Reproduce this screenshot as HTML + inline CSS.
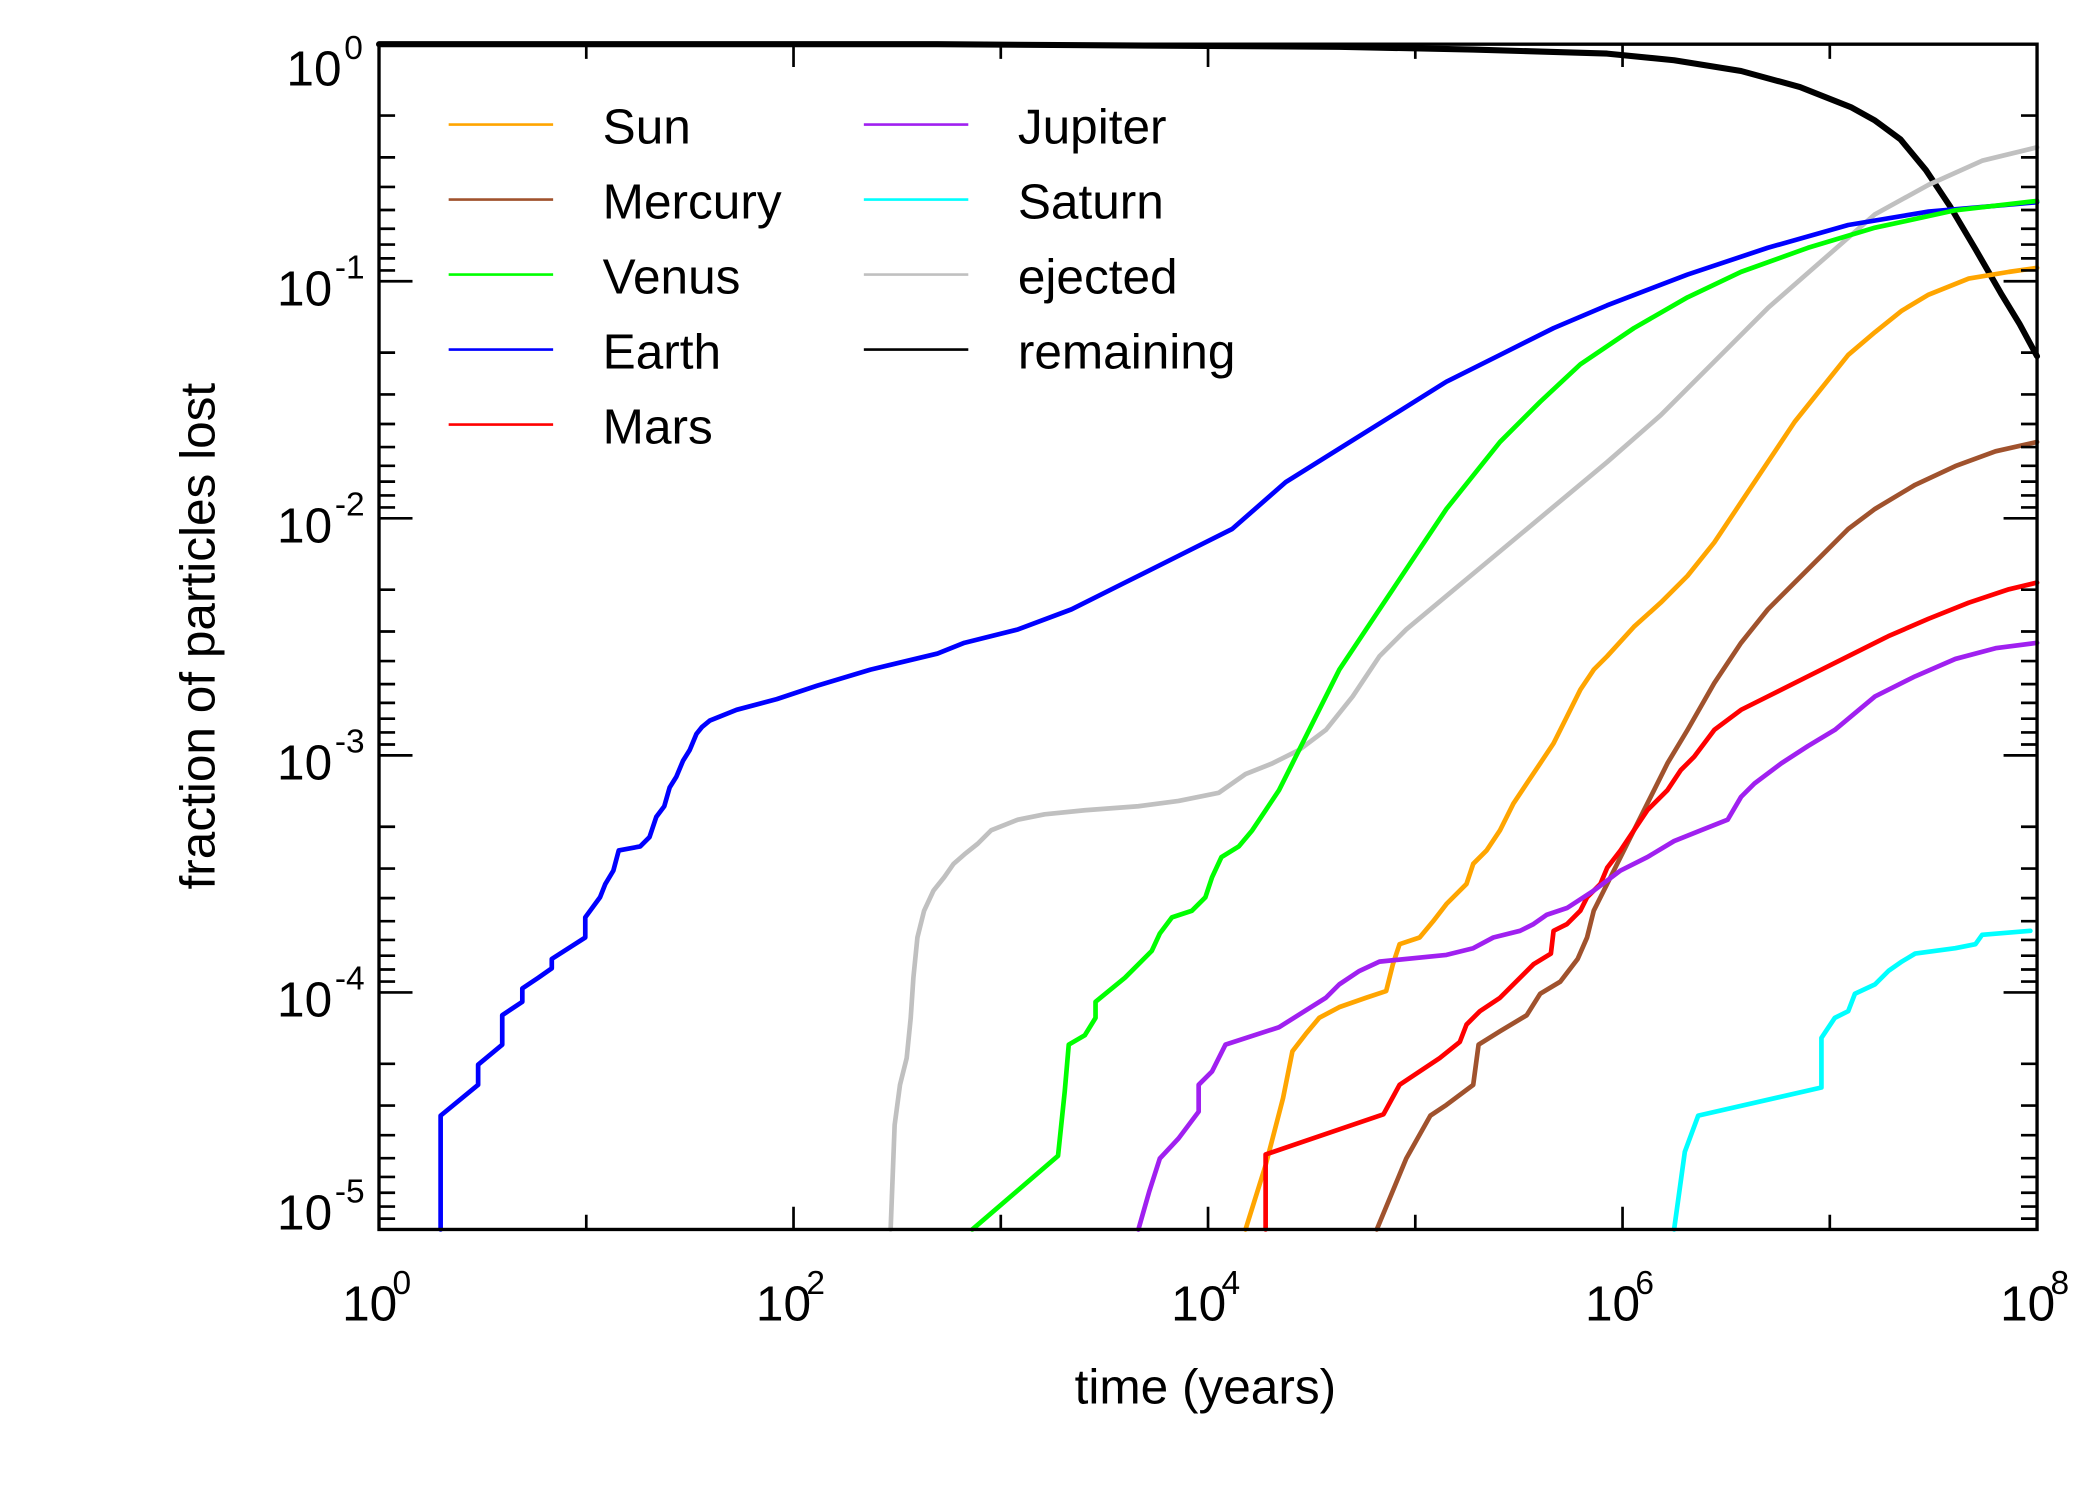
<!DOCTYPE html>
<html><head><meta charset="utf-8"><style>
html,body{margin:0;padding:0;background:#fff;}
svg{display:block;}
text{font-family:"Liberation Sans",Arial,sans-serif;fill:#000;}
</style></head><body>
<svg width="2100" height="1500" viewBox="0 0 1568 1120" xmlns="http://www.w3.org/2000/svg">
<rect width="1568" height="1120" fill="#fff"/>
<g fill="none" stroke-linejoin="round" stroke-linecap="round">
<!-- remaining -->
<polyline stroke="#000" stroke-width="4.5" points="283,33 700,33 1000,35 1100,37 1200,40 1250,45 1300,53 1344,65 1382,80 1400,90 1419,104 1438,127 1456,154 1475,186 1494,219 1508,242 1521,266"/>
<!-- ejected -->
<polyline stroke="#c0c0c0" stroke-width="3.5" points="665,918 668,840 672,810 677,790 680,760 682,730 685,700 690,680 697,665 705,655 712,645 720,638 730,630 740,620 760,612 780,608 810,605 850,602 880,598 910,592 930,578 950,570 970,560 990,545 1010,520 1030,490 1050,470 1080,445 1110,420 1140,395 1170,370 1200,345 1240,310 1280,270 1320,230 1360,195 1400,160 1440,138 1480,120 1521,110"/>
<!-- Earth -->
<polyline stroke="#0000ff" stroke-width="3.5" points="329,918 329,833 357,810 357,795 375,780 375,758 390,748 390,738 402,730 412,723 412,716 437,700 437,685 448,670 452,660 458,650 462,635 478,632 485,625 490,610 496,602 500,588 505,580 510,568 515,560 520,548 524,543 530,538 550,530 580,522 610,512 650,500 700,488 720,480 760,470 800,455 840,435 880,415 920,395 960,360 1000,335 1040,310 1080,285 1120,265 1160,245 1200,228 1260,205 1320,185 1380,168 1440,158 1521,151"/>
<!-- Venus -->
<polyline stroke="#00ff00" stroke-width="3.5" points="726,918 790,863 795,815 798,780 810,773 818,760 818,748 840,730 860,710 866,697 875,685 890,680 900,670 905,655 912,640 925,632 935,620 945,605 955,590 965,570 980,540 1000,500 1020,470 1040,440 1060,410 1080,380 1100,355 1120,330 1150,300 1180,272 1220,245 1260,222 1300,203 1350,185 1400,170 1460,157 1521,150"/>
<!-- Sun -->
<polyline stroke="#ffa500" stroke-width="3.5" points="930,918 945,870 958,820 965,785 975,772 985,760 1000,752 1020,745 1035,740 1040,720 1045,705 1060,700 1070,688 1080,675 1095,660 1100,645 1110,635 1120,620 1130,600 1140,585 1150,570 1160,555 1170,535 1180,515 1190,500 1200,490 1220,468 1240,450 1260,430 1280,405 1300,375 1320,345 1340,315 1360,290 1380,265 1400,248 1420,232 1440,220 1470,208 1500,203 1521,200"/>
<!-- Mercury -->
<polyline stroke="#a0522d" stroke-width="3.5" points="1028,918 1050,865 1068,833 1080,825 1100,810 1104,780 1120,770 1140,758 1150,742 1165,733 1178,716 1185,700 1190,680 1200,660 1215,630 1230,600 1245,570 1260,545 1280,510 1300,480 1320,455 1340,435 1360,415 1380,395 1400,380 1430,362 1460,348 1490,337 1521,330"/>
<!-- Mars -->
<polyline stroke="#ff0000" stroke-width="3.5" points="945,918 945,862 1033,832 1045,810 1060,800 1075,790 1090,778 1095,765 1105,755 1120,745 1130,735 1145,720 1158,712 1160,695 1170,690 1180,680 1185,670 1195,660 1200,648 1210,635 1220,620 1230,605 1245,590 1255,575 1265,565 1280,545 1300,530 1320,520 1350,505 1380,490 1410,475 1440,462 1470,450 1500,440 1521,435"/>
<!-- Jupiter -->
<polyline stroke="#a020f0" stroke-width="3.5" points="850,918 858,890 866,865 880,850 895,830 895,810 905,800 915,780 955,767 990,745 1000,735 1015,725 1030,718 1080,713 1100,708 1115,700 1135,695 1145,690 1155,683 1170,678 1190,665 1210,650 1230,640 1250,628 1270,620 1290,612 1300,595 1310,585 1330,570 1350,557 1370,545 1400,520 1430,505 1460,492 1490,484 1521,480"/>
<!-- Saturn -->
<polyline stroke="#00ffff" stroke-width="3.5" points="1250,918 1258,860 1268,833 1360,812 1360,775 1370,760 1380,755 1385,742 1400,735 1410,725 1420,718 1430,712 1460,708 1475,705 1480,698 1516,695"/>
</g>
<!-- axes box -->
<rect x="283" y="33" width="1238" height="885" fill="none" stroke="#000" stroke-width="2.5"/>
<g stroke="#000" stroke-width="2">
<path d="M283,918v-17M437.75,918v-11M592.5,918v-17M747.25,918v-11M902,918v-17M1056.75,918v-11M1211.5,918v-17M1366.25,918v-11M1521,918v-17
M283,33v17M437.75,33v11M592.5,33v17M747.25,33v11M902,33v17M1056.75,33v11M1211.5,33v17M1366.25,33v11M1521,33v17"/>
<path d="
M283,210h25M283,387h25M283,564h25M283,741h25
M1521,210h-25M1521,387h-25M1521,564h-25M1521,741h-25
M283,86.3h12M283,117.5h12M283,139.6h12M283,156.8h12M283,170.8h12M283,182.6h12M283,192.9h12M283,201.9h12
M283,263.3h12M283,294.5h12M283,316.6h12M283,333.8h12M283,347.8h12M283,359.6h12M283,369.9h12M283,378.9h12
M283,440.3h12M283,471.5h12M283,493.6h12M283,510.8h12M283,524.8h12M283,536.6h12M283,546.9h12M283,555.9h12
M283,617.3h12M283,648.5h12M283,670.6h12M283,687.8h12M283,701.8h12M283,713.6h12M283,723.9h12M283,732.9h12
M283,794.3h12M283,825.5h12M283,847.6h12M283,864.8h12M283,878.8h12M283,890.6h12M283,900.9h12M283,909.9h12
M1521,86.3h-12M1521,117.5h-12M1521,139.6h-12M1521,156.8h-12M1521,170.8h-12M1521,182.6h-12M1521,192.9h-12M1521,201.9h-12
M1521,263.3h-12M1521,294.5h-12M1521,316.6h-12M1521,333.8h-12M1521,347.8h-12M1521,359.6h-12M1521,369.9h-12M1521,378.9h-12
M1521,440.3h-12M1521,471.5h-12M1521,493.6h-12M1521,510.8h-12M1521,524.8h-12M1521,536.6h-12M1521,546.9h-12M1521,555.9h-12
M1521,617.3h-12M1521,648.5h-12M1521,670.6h-12M1521,687.8h-12M1521,701.8h-12M1521,713.6h-12M1521,723.9h-12M1521,732.9h-12
M1521,794.3h-12M1521,825.5h-12M1521,847.6h-12M1521,864.8h-12M1521,878.8h-12M1521,890.6h-12M1521,900.9h-12M1521,909.9h-12"/>
</g>
<!-- y labels -->
<g font-size="37" text-anchor="end">
<text x="255" y="64">10</text><text x="257" y="44" text-anchor="start" font-size="25">0</text>
<text x="248" y="228">10</text><text x="250" y="208" text-anchor="start" font-size="25">-1</text>
<text x="248" y="405">10</text><text x="250" y="385" text-anchor="start" font-size="25">-2</text>
<text x="248" y="582">10</text><text x="250" y="562" text-anchor="start" font-size="25">-3</text>
<text x="248" y="759">10</text><text x="250" y="739" text-anchor="start" font-size="25">-4</text>
<text x="248" y="918">10</text><text x="250" y="898" text-anchor="start" font-size="25">-5</text>
</g>
<!-- x labels -->
<g font-size="37" text-anchor="middle">
<text x="276" y="986">10</text><text x="300" y="966" font-size="25">0</text>
<text x="585" y="986">10</text><text x="609" y="966" font-size="25">2</text>
<text x="895" y="986">10</text><text x="919" y="966" font-size="25">4</text>
<text x="1204" y="986">10</text><text x="1228" y="966" font-size="25">6</text>
<text x="1514" y="986">10</text><text x="1538" y="966" font-size="25">8</text>
</g>
<text x="900" y="1048" font-size="37" text-anchor="middle">time (years)</text>
<text transform="translate(160,475) rotate(-90)" font-size="37" text-anchor="middle">fraction of particles lost</text>
<!-- legend -->
<g stroke-width="2">
<line x1="335" y1="93" x2="413" y2="93" stroke="#ffa500"/>
<line x1="335" y1="149" x2="413" y2="149" stroke="#a0522d"/>
<line x1="335" y1="205" x2="413" y2="205" stroke="#00ff00"/>
<line x1="335" y1="261" x2="413" y2="261" stroke="#0000ff"/>
<line x1="335" y1="317" x2="413" y2="317" stroke="#ff0000"/>
<line x1="645" y1="93" x2="723" y2="93" stroke="#a020f0"/>
<line x1="645" y1="149" x2="723" y2="149" stroke="#00ffff"/>
<line x1="645" y1="205" x2="723" y2="205" stroke="#c0c0c0"/>
<line x1="645" y1="261" x2="723" y2="261" stroke="#000"/>
</g>
<g font-size="37">
<text x="450" y="107">Sun</text>
<text x="450" y="163">Mercury</text>
<text x="450" y="219">Venus</text>
<text x="450" y="275">Earth</text>
<text x="450" y="331">Mars</text>
<text x="760" y="107">Jupiter</text>
<text x="760" y="163">Saturn</text>
<text x="760" y="219">ejected</text>
<text x="760" y="275">remaining</text>
</g>
</svg>
</body></html>
